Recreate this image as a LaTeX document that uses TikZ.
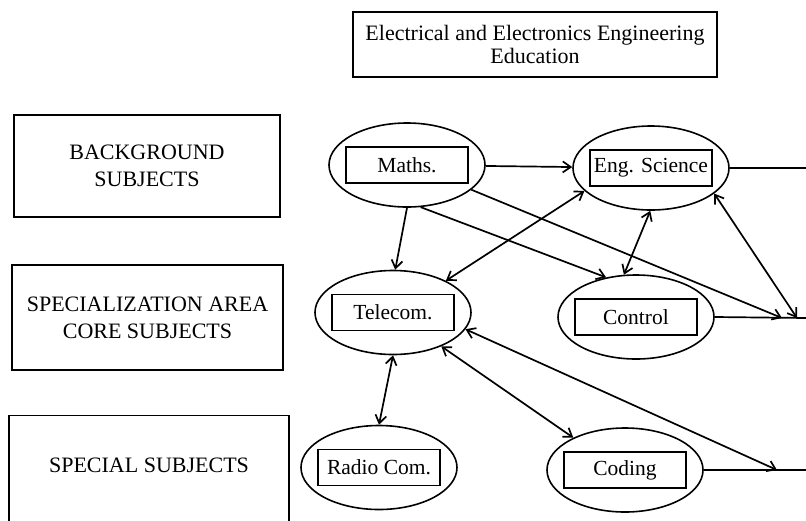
\documentclass[tikz,border=0pt]{standalone}
\usepackage{fontspec}
\setmainfont{Liberation Serif}
\usetikzlibrary{shapes.geometric,arrows.meta}

\tikzset{
  levelbox/.style={draw, line width=1.4pt, align=center, font=\fontsize{22}{27}\selectfont},
  subj/.style={draw, ellipse, line width=1.6pt, minimum width=156pt, minimum height=84pt, inner sep=0pt},
  subjbox/.style={draw, line width=1.8pt, minimum width=122pt, minimum height=36pt, inner sep=2pt, font=\fontsize{21.5}{24}\selectfont},
  link/.style={line width=1.7pt, >={Straight Barb[length=8pt,width=11pt]}},
}

\begin{document}
\begin{tikzpicture}[x=1pt,y=-1pt]
    \useasboundingbox (0,0) rectangle (806,520);
    % title
    \node[levelbox, minimum width=364pt, minimum height=65pt, font=\fontsize{22}{23}\selectfont] (title) at (535,44.5) {Electrical and Electronics Engineering\\Education};
    % levels on the left
    \node[levelbox, minimum width=266pt, minimum height=102pt] (bg) at (147,166) {BACKGROUND\\SUBJECTS};
    \node[levelbox, minimum width=271pt, minimum height=105pt] (core) at (147.5,317.5) {SPECIALIZATION AREA\\CORE SUBJECTS};
    \node[levelbox, minimum width=280pt, minimum height=130pt, anchor=north] (spec) at (149,415) {};
    \node[font=\fontsize{22}{27}\selectfont] (speclbl) at (149,465) {SPECIAL SUBJECTS};
    % subjects
    \foreach \n/\x/\y/\t in {maths/407/165/Maths., engsci/651/168/Eng. Science, telecom/393/312.5/Telecom., control/636/317/Control, radio/379/467.5/Radio Com., coding/625/470/Coding} {
        \node[subj] (\n) at (\x,\y) {};
        \node[subjbox] (\n-box) at (\n) {\t};
    }
    % free ends on the right
    \coordinate (bgout) at (806,168);
    \coordinate (coreout) at (806,318);
    \coordinate (specout) at (806,470);
    \coordinate (coreinA) at (782,318);
    \coordinate (coreinB) at (797,318);
    \coordinate (specin) at (777,470);
    % links
    \draw[link,->] (maths) -- (engsci);
    \draw[link,->] (maths.-90) -- (telecom.87);
    \draw[link,->] (maths.-72) -- (control.127);
    \draw[link,->] (maths.-21) -- (coreinA);
    \draw[link,<->] (telecom.31) -- (engsci.199);
    \draw[link,<->] (engsci.-91) -- (control.106);
    \draw[link,<->] (engsci.-22) -- (coreinB);
    \draw[link,<->] (telecom.south) -- (radio.north);
    \draw[link,<->] (telecom.-35) -- (coding.148);
    \draw[link,<->] (telecom.-13) -- (specin);
    \draw[link] (engsci.east) -- (bgout);
    \draw[link] (control.east) -- (coreout);
    \draw[link] (coding.east) -- (specout);
\end{tikzpicture}
\end{document}
